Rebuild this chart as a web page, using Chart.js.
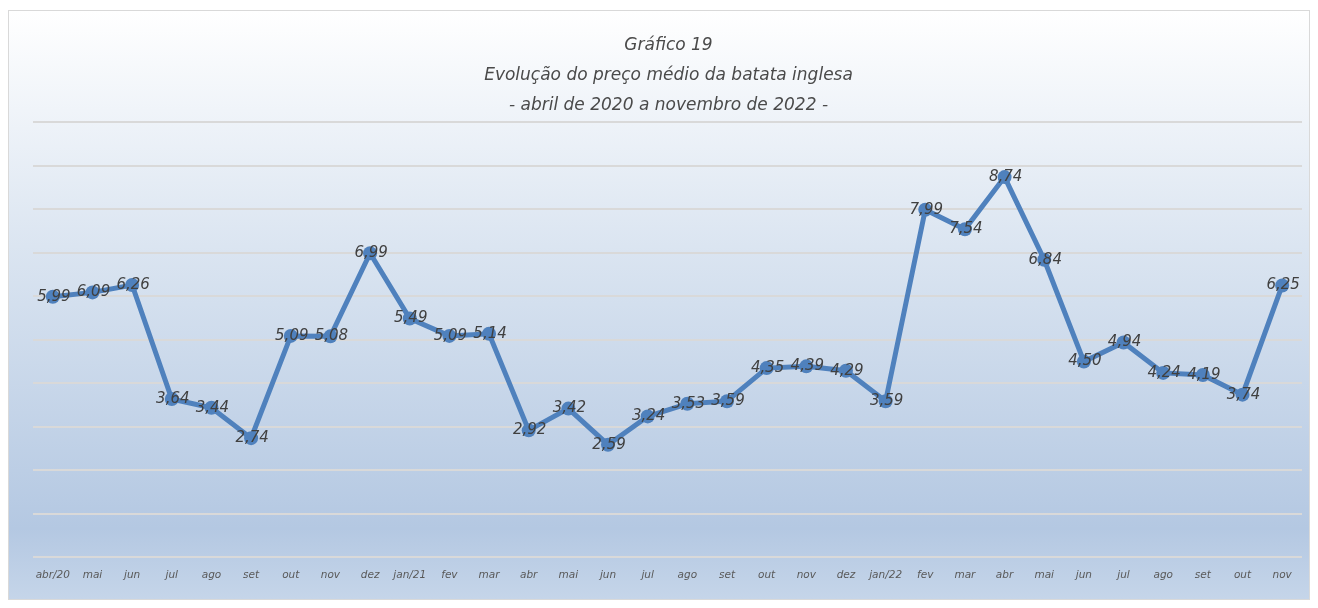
<!DOCTYPE html>
<html>
<head>
<meta charset="utf-8">
<script src="https://cdn.jsdelivr.net/npm/chart.js@4"></script>
<style>
  html, body { margin: 0; padding: 0; background: #ffffff; }
  #box {
    position: absolute; left: 8px; top: 10px; width: 1300px; height: 588px;
    border: 1px solid #d9d9d9;
    background: linear-gradient(to bottom, #ffffff 0%, #dbe5f1 40%, #b4c8e2 88%, #c5d5e9 100%);
  }
  canvas { display: block; }
</style>
</head>
<body>
<div id="box"><canvas id="chart" width="1300" height="588"></canvas></div>
<script>
// months on the x axis
const labels = ["abr/20", "mai", "jun", "jul", "ago", "set", "out", "nov", "dez", "jan/21",
  "fev", "mar", "abr", "mai", "jun", "jul", "ago", "set", "out", "nov", "dez", "jan/22",
  "fev", "mar", "abr", "mai", "jun", "jul", "ago", "set", "out", "nov"];

// average price (R$/kg)
const prices = [5.99, 6.09, 6.26, 3.64, 3.44, 2.74, 5.09, 5.08, 6.99, 5.49,
  5.09, 5.14, 2.92, 3.42, 2.59, 3.24, 3.53, 3.59, 4.35, 4.39, 4.29, 3.59,
  7.99, 7.54, 8.74, 6.84, 4.50, 4.94, 4.24, 4.19, 3.74, 6.25];

const titleLines = ["Gráfico 19", "Evolução do preço médio da batata inglesa", "- abril de 2020 a novembro de 2022 -"];

const fontFamily = "'DejaVu Sans', sans-serif";

//draw value labels over the points
const valueLabels = {
  id: "valueLabels",
  afterDatasetsDraw(chart) {
    const ctx = chart.ctx;
    ctx.save();
    ctx.fillStyle = "#404040";
    ctx.font = "italic 15px " + fontFamily;
    ctx.textAlign = "center";
    ctx.textBaseline = "middle";
    const meta = chart.getDatasetMeta(0);
    meta.data.forEach((pt, i) => {
      const txt = prices[i].toFixed(2).replace(".", ",");
      ctx.fillText(txt, pt.x + 1, pt.y);
    });
    ctx.restore();
  }
};

new Chart(document.getElementById("chart").getContext("2d"), {
  type: "line",
  data: {
    labels: labels,
    datasets: [{
      data: prices,
      borderColor: "#4f81bd",
      backgroundColor: "#4f81bd",
      borderWidth: 5,
      pointRadius: 7,
      pointBorderWidth: 0,
      tension: 0
    }]
  },
  options: {
    responsive: false,
    animation: false,
    layout: { padding: { left: 24, right: 5, top: 0, bottom: 13 } },
    plugins: {
      legend: { display: false },
      tooltip: { enabled: false },
      title: {
        display: true,
        text: titleLines,
        color: "#4a4a4a",
        font: { family: fontFamily, size: 17, style: "italic", weight: "normal", lineHeight: 1.75 },
        padding: { top: 20, bottom: 2 }
      }
    },
    scales: {
      x: {
        offset: true,
        grid: { display: false },
        border: { display: false },
        ticks: {
          color: "#595959",
          padding: 4,
          maxRotation: 0,
          autoSkip: false,
          font: { family: fontFamily, size: 10.5, style: "italic" }
        }
      },
      y: {
        min: 0,
        max: 10,
        ticks: { display: false, stepSize: 1 },
        border: { display: false },
        grid: { color: "#d9d9d9", lineWidth: 2, drawTicks: false }
      }
    }
  },
  plugins: [valueLabels]
});
</script>
</body>
</html>
